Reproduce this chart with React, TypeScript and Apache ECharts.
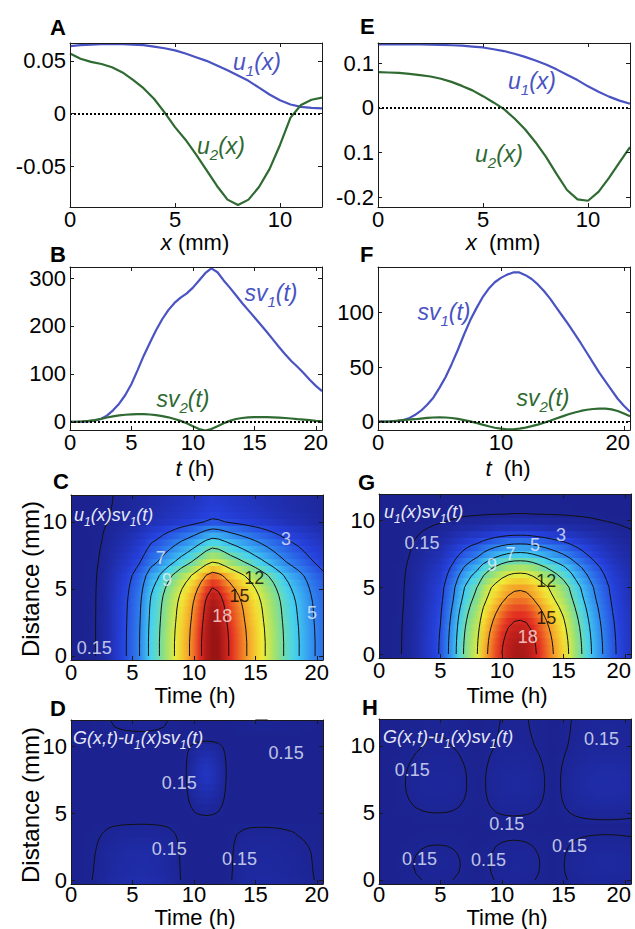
import React, { useEffect, useRef } from 'react';
import * as echarts from 'echarts';

const FONT = '"Liberation Sans", Arial, Helvetica, sans-serif';
const BLUE = '#4a53c2';
const GREEN = '#2e6a31';

// sample positions
const xMM = [0, 0.5, 1, 1.5, 2, 2.5, 3, 3.5, 4, 4.5, 5, 5.5, 6, 6.5, 7, 7.5, 8, 8.5, 9, 9.5, 10, 10.5, 11, 11.5, 12];
const tH = [0, 0.5, 1, 1.5, 2, 2.5, 3, 3.5, 4, 4.5, 5, 5.5, 6, 6.5, 7, 7.5, 8, 8.5, 9, 9.5, 10, 10.5, 11, 11.5, 12, 12.5, 13, 13.5, 14, 14.5, 15, 15.5, 16, 16.5, 17, 17.5, 18, 18.5, 19, 19.5, 20, 20.5];

// Panel A
const u1A = [0.064, 0.065, 0.0655, 0.066, 0.066, 0.066, 0.0655, 0.065, 0.0635, 0.062, 0.06, 0.057, 0.0535, 0.05, 0.0455, 0.041, 0.036, 0.031, 0.0245, 0.018, 0.0125, 0.0085, 0.0062, 0.0052, 0.0048];
const u2A = [0.057, 0.052, 0.049, 0.047, 0.044, 0.039, 0.032, 0.024, 0.014, 0.001, -0.013, -0.025, -0.039, -0.054, -0.069, -0.082, -0.087, -0.082, -0.07, -0.053, -0.03, -0.004, 0.008, 0.013, 0.015];
// Panel B
const sv1B = [0, 0, 0.3, 1, 2.5, 6, 13, 24, 38, 56, 79, 108, 138, 165, 191, 214, 233, 248, 259, 268, 280, 295, 310, 320, 312, 295, 280, 264, 248, 233, 218, 203, 188, 172, 156, 141, 127, 115, 102, 88, 75, 64];
const sv2B = [0, 0.2, 0.8, 2, 3.5, 6, 9, 11.5, 13.5, 14.8, 15.5, 16, 16, 15.3, 14, 12, 9.5, 6, 2, -3, -9, -15, -18, -15, -9, -3, 2, 6, 8, 9.5, 10, 10, 10, 9.5, 9, 8, 7, 5.5, 4.5, 3.5, 2, 1];
// Panel E
const u1E = [0.142, 0.142, 0.142, 0.142, 0.142, 0.1415, 0.141, 0.14, 0.139, 0.137, 0.135, 0.131, 0.127, 0.121, 0.114, 0.106, 0.097, 0.086, 0.074, 0.062, 0.048, 0.036, 0.025, 0.016, 0.009];
const u2E = [0.08, 0.079, 0.078, 0.076, 0.073, 0.07, 0.065, 0.058, 0.049, 0.039, 0.026, 0.012, -0.003, -0.024, -0.048, -0.077, -0.11, -0.148, -0.184, -0.205, -0.208, -0.188, -0.157, -0.122, -0.088];
// Panel F
const sv1F = [0, 0, 0.2, 0.5, 1.2, 3, 6, 10, 15.5, 22, 31, 41, 53, 66, 80, 93, 104, 114, 122, 128, 132, 135, 137, 137, 134.5, 131, 126, 120, 113, 105, 97, 89, 80.5, 72, 63, 54, 45, 37, 29, 21, 14.5, 9];
const sv2F = [0, 0, 0.3, 0.8, 1.3, 1.8, 2.2, 2.8, 3.4, 3.8, 4, 3.8, 3.3, 2.5, 1.4, 0.2, -1.2, -2.8, -4.3, -5.6, -6.5, -7, -7, -6.5, -5.5, -4.2, -2.8, -1, 0.8, 2.8, 4.8, 6.7, 8.4, 9.8, 10.9, 11.6, 12, 11.9, 11.2, 9.8, 7.5, 5];

const cShapeX = [1, 1, 1, 0.995, 0.99, 0.98, 0.97, 0.96, 0.945, 0.92, 0.885, 0.84, 0.78, 0.68, 0.585, 0.51, 0.445, 0.38, 0.31, 0.24, 0.16, 0.13, 0.115, 0.105, 0.1];
const cTimeX0 = [0, 0, 0.03, 0.08, 0.15, 0.4, 0.9, 1.6, 2.3, 3.0, 3.9, 4.8, 6.1, 7.6, 8.5, 9.8, 11.0, 12.2, 13.5, 14.6, 16.0, 17.6, 19.3, 20.5, 20.0, 18.8, 17.6, 16.6, 15.6, 14.6, 13.6, 12.6, 11.6, 10.6, 9.6, 8.6, 7.8, 7.1, 6.3, 5.5, 4.8, 4.2];
const gShapeX = [1, 0.995, 0.985, 0.97, 0.95, 0.925, 0.895, 0.86, 0.82, 0.785, 0.755, 0.69, 0.625, 0.55, 0.46, 0.375, 0.3, 0.215, 0.14, 0.075, 0.03, 0.008, 0.004, 0.003, 0.002];
const gTimeX0 = [0, 0.01, 0.04, 0.09, 0.18, 0.4, 0.8, 1.3, 1.9, 2.5, 3.2, 4.6, 6.0, 7.8, 9.4, 10.8, 12.0, 14.0, 15.5, 16.8, 18.0, 18.9, 19.4, 19.5, 19.3, 18.6, 17.6, 16.5, 15.4, 14.3, 13.2, 11.8, 10.3, 9.0, 7.7, 6.5, 5.4, 4.4, 3.4, 2.7, 2.1, 1.6];
// Map H residual: signed profile along distance and along time (magnitude shown)
const hShapeX = [0.35, 0.42, 0.46, 0.45, 0.4, 0.32, 0.22, 0.11, 0.0, -0.14, -0.3, -0.45, -0.58, -0.68, -0.72, -0.72, -0.68, -0.6, -0.5, -0.41, -0.34, -0.31, -0.29, -0.28, -0.27];
const hTimeX = [0, 0.02, 0.05, 0.1, 0.18, 0.27, 0.36, 0.43, 0.48, 0.5, 0.5, 0.48, 0.43, 0.35, 0.24, 0.12, 0.0, -0.15, -0.32, -0.47, -0.58, -0.64, -0.66, -0.64, -0.58, -0.48, -0.35, -0.2, -0.05, 0.1, 0.3, 0.5, 0.68, 0.83, 0.95, 1.03, 1.08, 1.1, 1.08, 1.03, 0.96, 0.88];

const levelsCG = [0.15, 3, 5, 7, 9, 12, 15, 18];
const levelsDH = [0.15];

const cLabels: [string, number, number][] = [['3', 17.5, 8.7], ['7', 7.3, 7.3], ['9', 7.8, 5.7], ['12', 14.9, 5.8], ['15', 13.7, 4.5], ['18', 12.3, 3.0], ['5', 19.6, 3.2], ['0.15', 1.9, 0.6]];
const gLabels: [string, number, number][] = [['0.15', 3.5, 8.3], ['3', 14.8, 8.9], ['5', 12.7, 8.2], ['7', 10.7, 7.5], ['9', 9.2, 6.7], ['12', 13.6, 5.5], ['15', 13.6, 2.7], ['18', 12.1, 1.25]];
const dLabels: [string, number, number][] = [['0.15', 17.5, 9.5], ['0.15', 8.8, 7.3], ['0.15', 8.0, 2.3], ['0.15', 13.7, 1.6]];
const hLabels: [string, number, number][] = [['0.15', 2.7, 8.2], ['0.15', 18.1, 10.5], ['0.15', 10.4, 4.2], ['0.15', 15.5, 2.5], ['0.15', 3.3, 1.6], ['0.15', 8.9, 1.5]];

const xTicksMM = [0, 5, 10];
const tTicks = [0, 5, 10, 15, 20];
const tTicksF = [0, 10, 20];
const yTicksA = [-0.05, 0, 0.05];
const yTicksE = [-0.2, -0.1, 0, 0.1];
const yTicksB = [0, 100, 200, 300];
const yTicksF = [0, 50, 100];
const distTicks = [0, 5, 10];

const GRIDS = [
  { left: 70, top: 43, width: 252, height: 164 }, // A
  { left: 70, top: 267, width: 252, height: 163 }, // B
  { left: 71, top: 495, width: 252, height: 165 }, // C
  { left: 71, top: 720, width: 252, height: 164 }, // D
  { left: 378, top: 43, width: 252, height: 164 }, // E
  { left: 378, top: 267, width: 252, height: 163 }, // F
  { left: 379, top: 494, width: 252, height: 164 }, // G
  { left: 379, top: 719, width: 252, height: 165 }, // H
];

const CMAP = ['#1c2390', '#2540dc', '#2f86ef', '#45d3f0', '#90e07c', '#f2ec35', '#f59a28', '#e32c22', '#9a1414'];
const VMAX = 20;
const TICK_FS = 22;
const NAME_FS = 22;

function hex(h: string) {
  return [parseInt(h.slice(1, 3), 16), parseInt(h.slice(3, 5), 16), parseInt(h.slice(5, 7), 16)];
}
const CMAP_RGB = CMAP.map(hex);
function cmap(v: number) {
  const f = Math.max(0, Math.min(1, v / VMAX)) * (CMAP_RGB.length - 1);
  const k = Math.min(Math.floor(f), CMAP_RGB.length - 2);
  const u = f - k;
  const a = CMAP_RGB[k], b = CMAP_RGB[k + 1];
  return `rgb(${Math.round(a[0] + (b[0] - a[0]) * u)},${Math.round(a[1] + (b[1] - a[1]) * u)},${Math.round(a[2] + (b[2] - a[2]) * u)})`;
}

function outer(px: number[], pt: number[], abs = false) {
  return px.map((a) => pt.map((b) => (abs ? Math.abs(a * b) : a * b)));
}

function contourSegments(field: number[][], L: number) {
  const segs: number[][] = [];
  for (let i = 0; i < xMM.length - 1; i++) {
    for (let j = 0; j < tH.length - 1; j++) {
      const a = field[i][j], b = field[i][j + 1], c = field[i + 1][j + 1], d = field[i + 1][j];
      const t0 = tH[j], t1 = tH[j + 1], x0 = xMM[i], x1 = xMM[i + 1];
      const ins = (v: number) => v >= L;
      const pts: { e: number; p: number[] }[] = [];
      if (ins(a) !== ins(b)) pts.push({ e: 0, p: [t0 + ((L - a) / (b - a)) * (t1 - t0), x0] });
      if (ins(b) !== ins(c)) pts.push({ e: 1, p: [t1, x0 + ((L - b) / (c - b)) * (x1 - x0)] });
      if (ins(d) !== ins(c)) pts.push({ e: 2, p: [t0 + ((L - d) / (c - d)) * (t1 - t0), x1] });
      if (ins(a) !== ins(d)) pts.push({ e: 3, p: [t0, x0 + ((L - a) / (d - a)) * (x1 - x0)] });
      if (pts.length === 2) {
        segs.push([pts[0].p[0], pts[0].p[1], pts[1].p[0], pts[1].p[1]]);
      } else if (pts.length === 4) {
        const center = (a + b + c + d) / 4;
        const P = pts.map((q) => q.p);
        if (ins(center) === ins(a)) {
          segs.push([P[0][0], P[0][1], P[1][0], P[1][1]]);
          segs.push([P[2][0], P[2][1], P[3][0], P[3][1]]);
        } else {
          segs.push([P[0][0], P[0][1], P[3][0], P[3][1]]);
          segs.push([P[1][0], P[1][1], P[2][0], P[2][1]]);
        }
      }
    }
  }
  return segs;
}

function axes(kind: 'x' | 'y', g: number, min: number, max: number, ticks: number[], fmt: (v: number) => string, margin: number) {
  const base: any = {
    type: 'value', gridIndex: g, min, max, z: 10,
    splitLine: { show: false },
    axisLine: { show: true, onZero: false, lineStyle: { color: '#1a1a1a', width: 1 } },
    axisTick: { show: true, inside: true, length: 4, customValues: ticks, lineStyle: { color: '#1a1a1a', width: 1 } },
  };
  return [
    {
      ...base, position: kind === 'x' ? 'bottom' : 'left',
      axisLabel: {
        show: true, customValues: ticks, formatter: fmt, color: '#000', fontSize: TICK_FS, fontFamily: FONT,
        lineHeight: 18, margin,
        rich: { r: { padding: [0, 12, 0, 0], fontSize: TICK_FS, lineHeight: 18, fontFamily: FONT, color: '#000' } },
      },
    },
    { ...base, position: kind === 'x' ? 'top' : 'right', axisLabel: { show: false } },
  ];
}

const fmtInt = (v: number) => String(v);
const fmtEdge = (v: number) => (v === 20 ? '{r|20}' : String(v));

function heatSeries(g: number, field: number[][]) {
  return {
    type: 'custom', xAxisIndex: 2 * g, yAxisIndex: 2 * g, z: 1, silent: true,
    data: xMM.map((x, i) => [x, i]),
    renderItem: (params: any, api: any) => {
      const x = api.value(0) as number;
      const i = api.value(1) as number;
      const y0 = i === 0 ? -0.3 : x - 0.25;
      const y1 = i === xMM.length - 1 ? 12 : x + 0.25;
      const pA = api.coord([tH[0], y1]);
      const pB = api.coord([tH[tH.length - 1], y0]);
      const cs = params.coordSys;
      const top = Math.max(pA[1] - 0.6, cs.y);
      const bot = Math.min(pB[1] + 0.6, cs.y + cs.height);
      const stops = field[i].map((v, j) => ({ offset: j / (tH.length - 1), color: cmap(v) }));
      return {
        type: 'rect',
        shape: { x: pA[0], y: top, width: pB[0] - pA[0], height: bot - top },
        style: { fill: new echarts.graphic.LinearGradient(0, 0, 1, 0, stops) },
      };
    },
  };
}

function contourSeries(g: number, field: number[][], levels: number[]) {
  const segs: number[][] = [];
  levels.forEach((L) => segs.push(...contourSegments(field, L)));
  return {
    type: 'custom', xAxisIndex: 2 * g, yAxisIndex: 2 * g, z: 2, silent: true,
    data: segs,
    renderItem: (params: any, api: any) => {
      const p1 = api.coord([api.value(0), api.value(1)]);
      const p2 = api.coord([api.value(2), api.value(3)]);
      return { type: 'line', shape: { x1: p1[0], y1: p1[1], x2: p2[0], y2: p2[1] }, style: { stroke: '#111', lineWidth: 1 } };
    },
  };
}

function labelColor(t: string) {
  if (t === '12' || t === '15') return '#000';
  if (t === '18') return '#ffe2e2';
  return '#e8eeff';
}

function labelSeries(g: number, labels: [string, number, number][]) {
  return {
    type: 'scatter', xAxisIndex: 2 * g, yAxisIndex: 2 * g, z: 5, silent: true,
    symbolSize: 1, itemStyle: { color: 'rgba(0,0,0,0)' },
    data: labels.map(([txt, t, x]) => ({
      value: [t, x],
      label: { show: true, position: 'inside', formatter: txt, color: labelColor(txt), fontSize: 18, lineHeight: 16, fontFamily: FONT },
    })),
  };
}

function lineSeries(g: number, xs: number[], ys: number[], color: string, zero: boolean) {
  const s: any = {
    type: 'line', xAxisIndex: 2 * g, yAxisIndex: 2 * g, z: 3, silent: true,
    data: xs.map((x, i) => [x, ys[i]]), showSymbol: false, symbol: 'none', smooth: false, clip: true,
    lineStyle: { color, width: 2.2 },
  };
  if (zero) {
    s.markLine = {
      silent: true, symbol: ['none', 'none'], label: { show: false },
      lineStyle: { color: '#000', type: [2, 2], width: 2 },
      emphasis: { disabled: true },
      data: [{ yAxis: 0 }],
    };
  }
  return s;
}

type Part = [string, 'i' | 's' | 'n'];
function richText(parts: Part[], x: number, y: number, color: string, size: number, align = 'center') {
  const text = parts.map(([s, k]) => `{${k}|${s}}`).join('');
  const pad = Math.round(size * 0.22);
  return {
    type: 'text', x, y, z: 100, silent: true,
    style: {
      text, align, verticalAlign: 'middle',
      rich: {
        i: { fontSize: size, fontStyle: 'italic', fontFamily: FONT, fill: color, verticalAlign: 'bottom', padding: [0, 0, pad, 0] },
        n: { fontSize: size, fontFamily: FONT, fill: color, verticalAlign: 'bottom', padding: [0, 0, pad, 0] },
        s: { fontSize: Math.round(size * 0.65), fontStyle: 'italic', fontFamily: FONT, fill: color, verticalAlign: 'bottom' },
      },
    },
  };
}

// axis names: italic variable + plain unit, compact line box
function axisName(v: string, unit: string, x: number, y: number) {
  return {
    type: 'text', x, y, z: 100, silent: true,
    style: {
      text: `{i|${v}}{n|${unit}}`, align: 'center', verticalAlign: 'middle',
      rich: {
        i: { fontSize: NAME_FS, lineHeight: 18, fontStyle: 'italic', fontFamily: FONT, fill: '#000' },
        n: { fontSize: NAME_FS, lineHeight: 18, fontFamily: FONT, fill: '#000' },
      },
    },
  };
}

function plainText(text: string, x: number, y: number, size: number, rotation = 0) {
  return {
    type: 'text', x, y, rotation, z: 100, silent: true,
    style: { text, fontSize: size, fontFamily: FONT, lineHeight: 18, fill: '#000', align: 'center', verticalAlign: 'middle' },
  };
}

function letter(text: string, x: number, y: number) {
  return { type: 'text', x, y, z: 100, silent: true, style: { text, font: `bold 22px ${FONT}`, fill: '#000', align: 'left', verticalAlign: 'middle' } };
}

function buildOption() {
  const fieldC = outer(cShapeX, cTimeX0);
  const fieldG = outer(gShapeX, gTimeX0);
  const fieldD = outer(u2A, sv2B);
  const fieldH = outer(hShapeX, hTimeX, true);

  const fmtA = (v: number) => (v === 0 ? '0' : v.toFixed(2));
  const fmtE = (v: number) => (Math.abs(v + 0.1) < 1e-9 ? '0.1' : v === 0 ? '0' : String(v));

  const xAxis: any[] = [];
  const yAxis: any[] = [];
  const add = (g: number, xr: [number, number], xt: number[], xf: (v: number) => string, yr: [number, number], yt: number[], yf: (v: number) => string, xm = 3) => {
    const xa = axes('x', g, xr[0], xr[1], xt, xf, xm);
    const ya = axes('y', g, yr[0], yr[1], yt, yf, 4);
    xAxis[2 * g] = xa[0];
    xAxis[2 * g + 1] = xa[1];
    yAxis[2 * g] = ya[0];
    yAxis[2 * g + 1] = ya[1];
  };
  add(0, [0, 12], xTicksMM, fmtInt, [-0.089, 0.067], yTicksA, fmtA);
  add(1, [0, 20.5], tTicks, fmtInt, [-17, 323], yTicksB, fmtInt);
  add(2, [0, 20.5], tTicks, fmtInt, [-0.3, 12], distTicks, fmtInt);
  add(3, [0, 20.5], tTicks, fmtInt, [-0.3, 12], distTicks, fmtInt, 1);
  add(4, [0, 12], xTicksMM, fmtInt, [-0.222, 0.145], yTicksE, fmtE);
  add(5, [0, 20.5], tTicksF, fmtEdge, [-7.7, 142], yTicksF, fmtInt);
  add(6, [0, 20.5], tTicks, fmtEdge, [-0.3, 12], distTicks, fmtInt);
  add(7, [0, 20.5], tTicks, fmtEdge, [-0.3, 12], distTicks, fmtInt, 1);

  const series: any[] = [
    lineSeries(0, xMM, u1A, BLUE, true),
    lineSeries(0, xMM, u2A, GREEN, false),
    lineSeries(1, tH, sv1B, BLUE, true),
    lineSeries(1, tH, sv2B, GREEN, false),
    lineSeries(4, xMM, u1E, BLUE, true),
    lineSeries(4, xMM, u2E, GREEN, false),
    lineSeries(5, tH, sv1F, BLUE, true),
    lineSeries(5, tH, sv2F, GREEN, false),
    heatSeries(2, fieldC), contourSeries(2, fieldC, levelsCG), labelSeries(2, cLabels),
    heatSeries(6, fieldG), contourSeries(6, fieldG, levelsCG), labelSeries(6, gLabels),
    heatSeries(3, fieldD), contourSeries(3, fieldD, levelsDH), labelSeries(3, dLabels),
    heatSeries(7, fieldH), contourSeries(7, fieldH, levelsDH), labelSeries(7, hLabels),
  ];

  const W = '#e6e8f8';
  const elements: any[] = [
    letter('A', 50, 27), letter('E', 360, 26), letter('B', 50, 254), letter('F', 360, 254),
    letter('C', 53, 481), letter('G', 358, 482), letter('D', 50, 708), letter('H', 362, 707),
    richText([['u', 'i'], ['1', 's'], ['(x)', 'i']], 257, 64, BLUE, 23),
    richText([['u', 'i'], ['2', 's'], ['(x)', 'i']], 221, 148, GREEN, 23),
    richText([['u', 'i'], ['1', 's'], ['(x)', 'i']], 532, 83, BLUE, 23),
    richText([['u', 'i'], ['2', 's'], ['(x)', 'i']], 499, 156, GREEN, 23),
    richText([['sv', 'i'], ['1', 's'], ['(t)', 'i']], 271, 295, BLUE, 23),
    richText([['sv', 'i'], ['2', 's'], ['(t)', 'i']], 183, 401, GREEN, 23),
    richText([['sv', 'i'], ['1', 's'], ['(t)', 'i']], 444, 314, BLUE, 23),
    richText([['sv', 'i'], ['2', 's'], ['(t)', 'i']], 543, 400, GREEN, 23),
    richText([['u', 'i'], ['1', 's'], ['(x)sv', 'i'], ['1', 's'], ['(t)', 'i']], 74, 517, W, 18, 'left'),
    richText([['u', 'i'], ['1', 's'], ['(x)sv', 'i'], ['1', 's'], ['(t)', 'i']], 384, 514, W, 18, 'left'),
    richText([['G(x,t)-u', 'i'], ['1', 's'], ['(x)sv', 'i'], ['1', 's'], ['(t)', 'i']], 73, 740, W, 18, 'left'),
    richText([['G(x,t)-u', 'i'], ['1', 's'], ['(x)sv', 'i'], ['1', 's'], ['(t)', 'i']], 383, 739, W, 18, 'left'),
    axisName('x', ' (mm)', 195, 242),
    axisName('x', '  (mm)', 503, 242),
    axisName('t', ' (h)', 195, 468),
    axisName('t', '  (h)', 508, 468),
    plainText('Time (h)', 195, 695, NAME_FS),
    plainText('Time (h)', 507, 695, NAME_FS),
    plainText('Time (h)', 195, 917, NAME_FS),
    plainText('Time (h)', 507, 917, NAME_FS),
    plainText('Distance (mm)', 30, 579, 24, Math.PI / 2),
    plainText('Distance (mm)', 30, 805, 24, Math.PI / 2),
  ];

  return {
    animation: false,
    backgroundColor: '#ffffff',
    grid: GRIDS.map((g) => ({ ...g, show: false, containLabel: false, outerBoundsMode: 'none' })),
    xAxis, yAxis, series,
    graphic: { elements },
  };
}

export default function App() {
  const ref = useRef<HTMLDivElement>(null);
  useEffect(() => {
    if (!ref.current) return;
    const chart = echarts.init(ref.current, undefined, { renderer: 'svg' });
    chart.setOption(buildOption() as any);
    return () => chart.dispose();
  }, []);
  return <div ref={ref} style={{ position: 'fixed', left: 0, top: 0, width: 635, height: 929, background: '#fff' }} />;
}
